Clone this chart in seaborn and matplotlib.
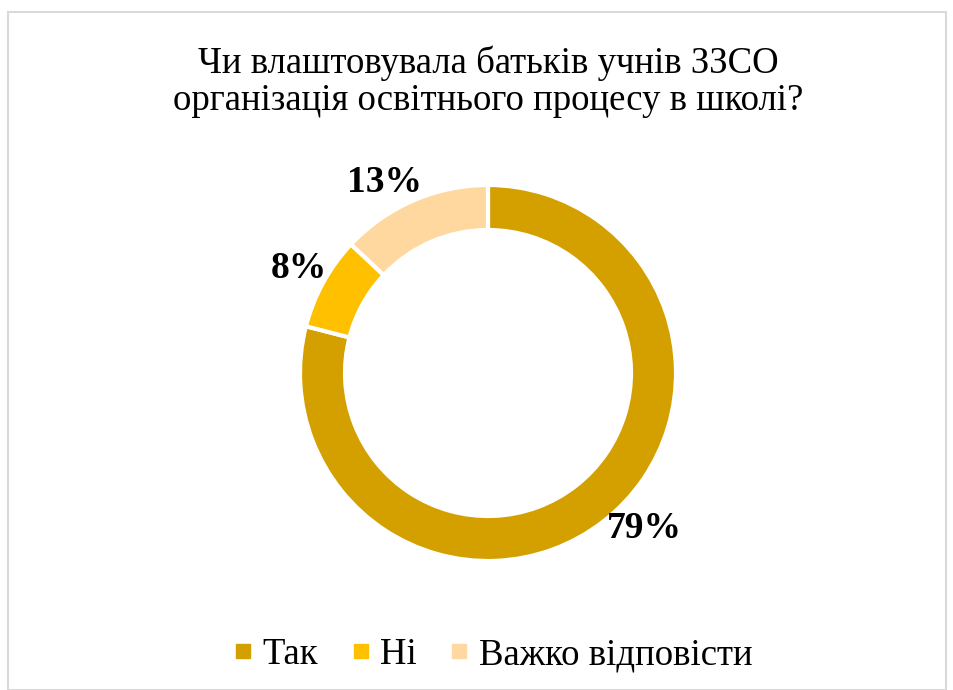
import matplotlib.pyplot as plt
import seaborn as sns
from matplotlib.lines import Line2D
from matplotlib.patches import Rectangle

# ----------------------------
# Data
# ----------------------------
title = "Чи влаштовувала батьків учнів ЗЗСО\nорганізація освітнього процесу в школі?"
labels = ["Так", "Ні", "Важко відповісти"]
values = [79, 8, 13]
colors = ["#D4A000", "#FFC000", "#FFD8A0"]

sns.set_theme(style="white")
plt.rcParams["font.family"] = ["Liberation Serif", "DejaVu Serif"]
plt.rcParams["text.color"] = "black"

W, H = 954, 690
fig = plt.figure(figsize=(W / 100, H / 100), dpi=100)
ax = fig.add_axes([0, 0, 1, 1])

cx, cy, r = 488, H - 373, 188

wedges, texts, autotexts = ax.pie(
    values,
    colors=colors,
    startangle=90,
    counterclock=False,
    center=(cx, cy),
    radius=r,
    wedgeprops=dict(width=45, edgecolor="white", linewidth=3),
    autopct=lambda p: f"{p:.0f}%",
    pctdistance=1.15,
    textprops=dict(fontsize=27, fontweight="bold", color="black"),
)

# Excel places the outside-end labels a little off the slice midpoints
autotexts[0].set_position((cx + 156, cy - 155))
autotexts[2].set_position((cx - 103, cy + 190))

ax.set_xlim(0, W)
ax.set_ylim(0, H)
ax.set_aspect("equal")
ax.axis("off")

# chart title
fig.text(cx / W, 1 - 82 / H, title, ha="center", va="center",
         fontsize=26.5, linespacing=1.1, color="black")

# legend
handles = [Line2D([0], [0], marker="s", color="none", markerfacecolor=c,
                  markeredgecolor=c, markersize=10) for c in colors]
leg = fig.legend(handles, labels, loc="center", bbox_to_anchor=(494 / W, 1 - 655 / H),
                 ncol=3, frameon=False, fontsize=26.5, handlelength=0.4,
                 handletextpad=0.33, columnspacing=0.95)
for t in leg.get_texts():
    t.set_color("black")

# outer border
fig.patches.append(Rectangle((8 / W, 0), (W - 16) / W, 1 - 12 / H,
                             transform=fig.transFigure, fill=False,
                             edgecolor="#D9D9D9", linewidth=1.5))

fig.savefig("out.png", dpi=100)
plt.close()
